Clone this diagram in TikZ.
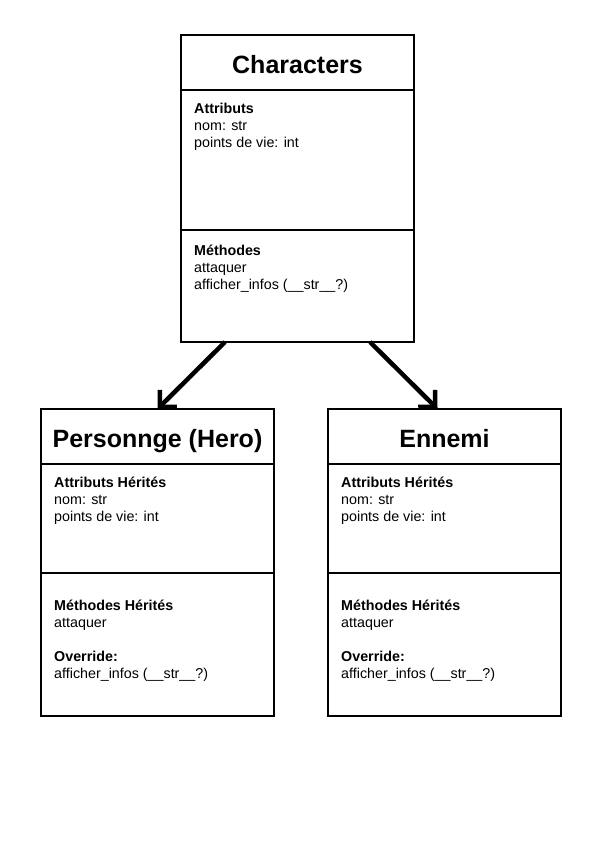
\documentclass[tikz,border=0pt]{standalone}
\usepackage{fontspec}
\setmainfont{Liberation Sans}
\usetikzlibrary{positioning,arrows.meta}
\begin{document}
\begin{tikzpicture}[x=1pt,y=-1pt,
  hd/.style={draw,line width=1.2pt,minimum width=233pt,minimum height=55pt,inner sep=0pt,outer sep=0pt,
    text height=22pt,text depth=0pt,font=\fontsize{25}{30}\selectfont\bfseries},
  part/.style={draw,line width=1.2pt,minimum width=233pt,inner sep=0pt,outer sep=0pt},
  txt/.style={align=left,inner sep=0pt,font=\fontsize{14.3}{16.8}\selectfont},
  inherit/.style={line width=4.5pt,-{Straight Barb[angle=90:17pt]}}]
\useasboundingbox (0,0) rectangle (595,842);
% parent class
\node[hd] (charHead) at (297.5,62.5) {Characters};
\node[part,minimum height=140pt,below=0pt of charHead] (charAttr) {};
\node[part,minimum height=112pt,below=0pt of charAttr] (charMeth) {};
\node[txt,below right=11.5pt and 13pt of charAttr.north west] (charAttrTxt)
  {\strut\textbf{Attributs}\\nom: str\\points de vie: int};
\node[txt,below right=14pt and 13pt of charMeth.north west] (charMethTxt)
  {\strut\textbf{Méthodes}\\attaquer\\afficher\_infos (\_\_str\_\_?)};
% child classes
\node[hd] (heroHead) at (157.5,436.5) {Personnge (Hero)};
\node[part,minimum height=109pt,below=0pt of heroHead] (heroAttr) {};
\node[part,minimum height=143pt,below=0pt of heroAttr] (heroMeth) {};
\node[txt,below right=11.5pt and 13pt of heroAttr.north west] (heroAttrTxt)
  {\strut\textbf{Attributs Hérités}\\nom: str\\points de vie: int};
\node[txt,below right=26pt and 13pt of heroMeth.north west] (heroMethTxt)
  {\strut\textbf{Méthodes Hérités}\\attaquer\\[16.8pt]\textbf{Override:}\\afficher\_infos (\_\_str\_\_?)};
\node[hd] (ennemiHead) at (444.5,436.5) {Ennemi};
\node[part,minimum height=109pt,below=0pt of ennemiHead] (ennemiAttr) {};
\node[part,minimum height=143pt,below=0pt of ennemiAttr] (ennemiMeth) {};
\node[txt,below right=11.5pt and 13pt of ennemiAttr.north west] (ennemiAttrTxt)
  {\strut\textbf{Attributs Hérités}\\nom: str\\points de vie: int};
\node[txt,below right=26pt and 13pt of ennemiMeth.north west] (ennemiMethTxt)
  {\strut\textbf{Méthodes Hérités}\\attaquer\\[16.8pt]\textbf{Override:}\\afficher\_infos (\_\_str\_\_?)};
% inheritance
\draw[inherit] ([xshift=44pt]charMeth.south west) -- (heroHead.north);
\draw[inherit] ([xshift=-44pt]charMeth.south east) -- ([xshift=-7pt]ennemiHead.north);
\end{tikzpicture}
\end{document}
